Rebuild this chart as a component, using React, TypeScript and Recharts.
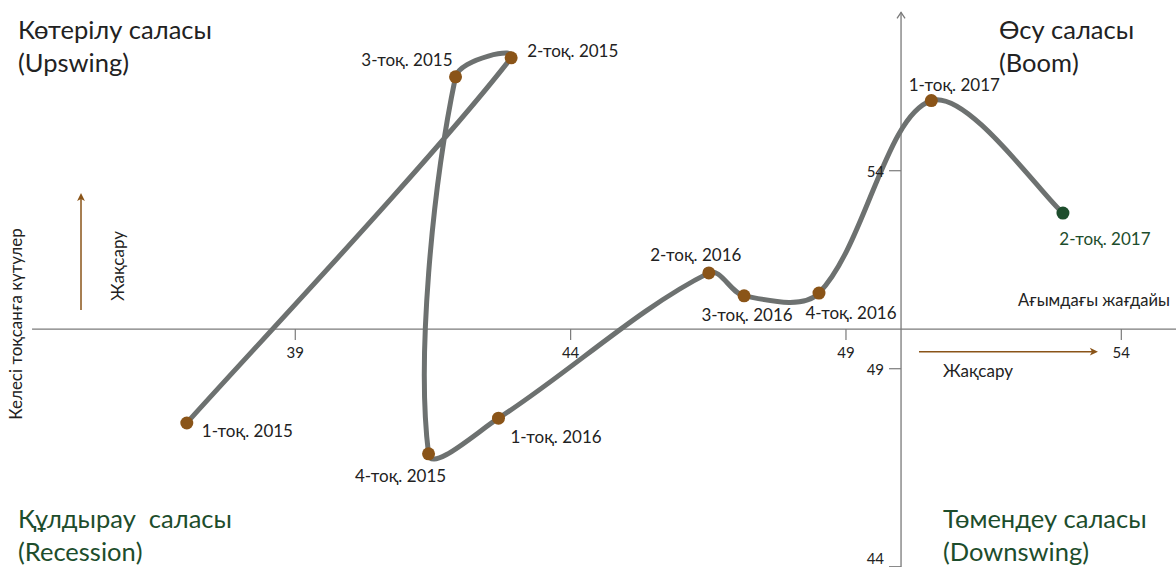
import React from 'react';
import { LineChart, Line, XAxis, YAxis, ReferenceLine, ReferenceDot } from 'recharts';

const quarters = [
  '1-тоқ. 2015', '2-тоқ. 2015', '3-тоқ. 2015', '4-тоқ. 2015',
  '1-тоқ. 2016', '2-тоқ. 2016', '3-тоқ. 2016', '4-тоқ. 2016',
  '1-тоқ. 2017', '2-тоқ. 2017',
];
// current situation (x) and next-quarter expectations (y)
const currentState = [37.03, 42.92, 41.91, 41.42, 42.69, 46.51, 47.15, 48.51, 50.55, 52.94];
const expectations = [47.63, 56.85, 56.37, 46.85, 47.75, 51.42, 50.84, 50.91, 55.77, 52.93];
const xTicks = [39, 44, 49, 54];
const yTicks = [44, 49, 54];

const W = 1176;
const H = 567;
const FONT = 'Lato, "Open Sans", sans-serif';
const LINE = '#6d7170';
const BROWN = '#8a5418';
const GREEN = '#1d4d2c';
const AXIS = '#7a7a7a';
const TEXT = '#222';

// label placement around each dot: dx, dy, anchor
const labelPos: [number, number, 'start' | 'middle' | 'end'][] = [
  [15, 8, 'start'],
  [16, -7, 'start'],
  [-3, -17, 'end'],
  [-28, 22, 'middle'],
  [12, 18, 'start'],
  [-13, -18, 'middle'],
  [3, 19, 'middle'],
  [32, 19, 'middle'],
  [23, -16, 'middle'],
  [42, 25, 'middle'],
];

const data = quarters.map((q, i) => ({ name: q, x: currentState[i], y: expectations[i] }));

// smoothed line with tangents weighted by neighbouring segment lengths (spreadsheet-like smoothing)
const smoothCurve = (context: any) => {
  let pts: number[][] = [];
  const dist = (a: number[], b: number[]) => Math.hypot(b[0] - a[0], b[1] - a[1]) || 1e-6;
  return {
    areaStart() {},
    areaEnd() {},
    lineStart() { pts = []; },
    point(x: number, y: number) { pts.push([+x, +y]); },
    lineEnd() {
      if (!pts.length) return;
      const n = pts.length;
      context.moveTo(pts[0][0], pts[0][1]);
      for (let i = 0; i < n - 1; i++) {
        const p0 = pts[Math.max(i - 1, 0)];
        const p1 = pts[i];
        const p2 = pts[i + 1];
        const p3 = pts[Math.min(i + 2, n - 1)];
        const d01 = i > 0 ? dist(p0, p1) : 0;
        const d12 = dist(p1, p2);
        const d23 = i + 2 < n ? dist(p2, p3) : 0;
        const f1 = i > 0 ? d12 / (d01 + d12) / 3 : 1 / 6;
        const f2 = i + 2 < n ? d12 / (d12 + d23) / 3 : 1 / 6;
        context.bezierCurveTo(
          p1[0] + (p2[0] - p0[0]) * f1, p1[1] + (p2[1] - p0[1]) * f1,
          p2[0] - (p3[0] - p1[0]) * f2, p2[1] - (p3[1] - p1[1]) * f2,
          p2[0], p2[1]
        );
      }
    },
  };
};

const renderDot = (props: any) => {
  const { cx, cy, index } = props;
  const last = index === quarters.length - 1;
  const [dx, dy, anchor] = labelPos[index];
  return (
    <g key={`dot-${index}`}>
      <circle cx={cx} cy={cy} r={6.5} fill={last ? GREEN : BROWN} />
      <text x={cx + dx} y={cy + dy} textAnchor={anchor} dominantBaseline="central"
        fontSize={17} fontFamily={FONT} fill={last ? GREEN : TEXT}>
        {quarters[index]}
      </text>
    </g>
  );
};

const axisShape = (arrow: 'open' | 'none') => (p: any) => {
  const { x1, y1, x2, y2 } = p;
  return (
    <g>
      <line x1={x1} y1={y1} x2={x2} y2={y2} stroke={AXIS} strokeWidth={1.3} />
      {arrow === 'open' && (
        <polyline points={`${x2 - 4},${y2 + 6} ${x2},${y2} ${x2 + 4},${y2 + 6}`} fill="none" stroke={AXIS} strokeWidth={1.3} />
      )}
    </g>
  );
};

const brownArrow = (p: any) => {
  const { x1, y1, x2, y2 } = p;
  const ang = Math.atan2(y2 - y1, x2 - x1);
  const L = 9;
  const a1 = ang + Math.PI - 0.45;
  const a2 = ang + Math.PI + 0.45;
  return (
    <g>
      <line x1={x1} y1={y1} x2={x2 - Math.cos(ang) * 4} y2={y2 - Math.sin(ang) * 4} stroke={BROWN} strokeWidth={1.5} />
      <polygon
        points={`${x2},${y2} ${x2 + L * Math.cos(a1)},${y2 + L * Math.sin(a1)} ${x2 + Math.cos(ang + Math.PI) * 6},${y2 + Math.sin(ang + Math.PI) * 6} ${x2 + L * Math.cos(a2)},${y2 + L * Math.sin(a2)}`}
        fill={BROWN}
      />
    </g>
  );
};

const xTickShape = (label: number) => (p: any) => (
  <g>
    <line x1={p.cx} y1={p.cy} x2={p.cx} y2={p.cy + 11} stroke={AXIS} strokeWidth={1.2} />
    <text x={p.cx} y={p.cy + 23} textAnchor="middle" dominantBaseline="central" fontSize={15} fontFamily={FONT} fill={TEXT}>{label}</text>
  </g>
);

const yTickShape = (label: number) => (p: any) => (
  <g>
    <line x1={p.cx - 12} y1={p.cy} x2={p.cx} y2={p.cy} stroke={AXIS} strokeWidth={1.2} />
    <text x={p.cx - 17} y={Math.min(p.cy, H - 9)} textAnchor="end" dominantBaseline="central" fontSize={15} fontFamily={FONT} fill={TEXT}>{label}</text>
  </g>
);

const txt = (left: number, top: number, size: number, color: string, content: React.ReactNode) => (
  <div style={{ position: 'absolute', left, top, fontSize: size, color, fontFamily: FONT, lineHeight: '33px', whiteSpace: 'pre' }}>
    {content}
  </div>
);

const rotated = (cx: number, cy: number, content: string) => (
  <div style={{ position: 'absolute', left: cx, top: cy, transform: 'translate(-50%, -50%) rotate(-90deg)', fontSize: 17, fontFamily: FONT, color: TEXT, whiteSpace: 'pre' }}>
    {content}
  </div>
);

export default function App() {
  return (
    <div style={{ position: 'absolute', left: 0, top: 0, width: W, height: H, background: '#fff', overflow: 'hidden' }}>
      <LineChart width={W} height={H} data={data} margin={{ top: 0, right: 0, bottom: 0, left: 0 }}>
        <XAxis type="number" dataKey="x" domain={[33.638, 54.993]} hide />
        <YAxis type="number" dataKey="y" domain={[43.993, 58.311]} hide />
        <ReferenceLine segment={[{ x: 34.22, y: 50 }, { x: 54.993, y: 50 }]} shape={axisShape('none')} />
        <ReferenceLine segment={[{ x: 50, y: 43.993 }, { x: 50, y: 58.0 }]} shape={axisShape('open')} />
        <ReferenceLine segment={[{ x: 35.109, y: 50.483 }, { x: 35.109, y: 53.437 }]} shape={brownArrow} />
        <ReferenceLine segment={[{ x: 50.326, y: 49.43 }, { x: 53.576, y: 49.43 }]} shape={brownArrow} />
        {xTicks.map((t) => (
          <ReferenceDot key={`xt-${t}`} x={t} y={50} r={0} shape={xTickShape(t)} />
        ))}
        {yTicks.map((t) => (
          <ReferenceDot key={`yt-${t}`} x={50} y={t} r={0} shape={yTickShape(t)} />
        ))}
        <Line
          type={smoothCurve as any}
          dataKey="y"
          stroke={LINE}
          strokeWidth={5}
          dot={renderDot}
          activeDot={false}
          isAnimationActive={false}
        />
      </LineChart>
      {txt(18, 13, 25.5, TEXT, 'Көтерілу саласы\n(Upswing)')}
      {txt(999, 13, 25.5, TEXT, 'Өсу саласы\n(Boom)')}
      {txt(18, 502, 25.5, GREEN, 'Құлдырау  саласы\n(Recession)')}
      {txt(943, 502, 25.5, GREEN, 'Төмендеу саласы\n(Downswing)')}
      {txt(1018, 284, 16.5, TEXT, 'Ағымдағы жағдайы')}
      {txt(943, 354, 17, TEXT, 'Жақсару')}
      {rotated(117, 266, 'Жақсару')}
      {rotated(15, 324, 'Келесі тоқсанға күтулер')}
    </div>
  );
}
